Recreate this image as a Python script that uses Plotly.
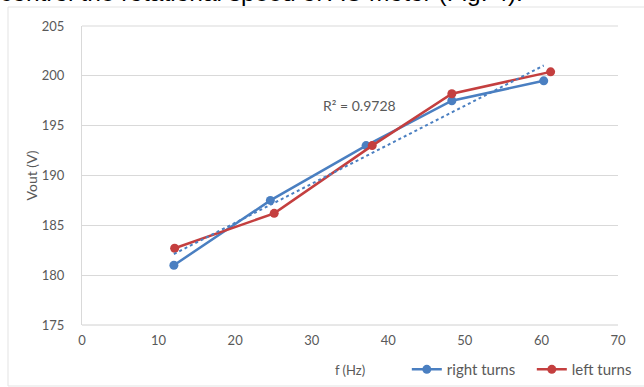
import numpy as np
import plotly.graph_objects as go

# data
f_right = [12, 24.6, 37.1, 48.3, 60.3]
v_right = [181.0, 187.5, 193.0, 197.5, 199.5]
f_left = [12.1, 25.1, 37.9, 48.3, 61.2]
v_left = [182.7, 186.2, 193.0, 198.2, 200.4]
r2_text = "R² = 0.9728"
x_ticks = [0, 10, 20, 30, 40, 50, 60, 70]
y_ticks = [175, 180, 185, 190, 195, 200, 205]

BLUE = "#4A7FC1"
RED = "#C43F3F"
GRAY = "#595959"
FONT = "Lato, Open Sans, sans-serif"

# linear trendline of right turns
coef = np.polyfit(f_right, v_right, 1)
tx = np.array([f_right[0], f_right[-1]])
ty = np.polyval(coef, tx)

fig = go.Figure()
fig.add_trace(go.Scatter(x=f_right, y=v_right, mode="lines+markers", name="right turns",
                         line=dict(color=BLUE, width=2.5), marker=dict(size=9, color=BLUE)))
fig.add_trace(go.Scatter(x=f_left, y=v_left, mode="lines+markers", name="left turns",
                         line=dict(color=RED, width=2.5), marker=dict(size=9, color=RED)))
fig.add_trace(go.Scatter(x=tx, y=ty, mode="lines", showlegend=False,
                         line=dict(color=BLUE, width=2, dash="dot")))

fig.update_layout(
    width=644, height=387,
    margin=dict(l=82, r=26, t=26, b=62, autoexpand=False),
    paper_bgcolor="white", plot_bgcolor="white",
    font=dict(family=FONT, size=13, color=GRAY),
    showlegend=True,
    legend=dict(orientation="h", x=0.606, y=-0.094, xanchor="left", yanchor="top",
                font=dict(size=15, color=GRAY), tracegroupgap=0,
                entrywidth=80, entrywidthmode="pixels",
                bgcolor="rgba(0,0,0,0)"),
    xaxis=dict(range=[0, 70], tickvals=x_ticks, showgrid=False, zeroline=False,
               showline=False, ticks="", tickfont=dict(size=13, color=GRAY),
               ticklabelstandoff=6, automargin=False,
               title=dict(text="f (Hz)", font=dict(size=13, color=GRAY), standoff=18)),
    yaxis=dict(range=[175, 205], tickvals=y_ticks, showgrid=True, gridcolor="#D9D9D9",
               gridwidth=1, zeroline=False, showline=True, linecolor="#D9D9D9", linewidth=1,
               ticks="", tickfont=dict(size=13, color=GRAY), ticklabelstandoff=14,
               automargin=False,
               title=dict(text="Vout (V)", font=dict(size=14, color=GRAY), standoff=0)),
    shapes=[
        dict(type="rect", xref="paper", yref="paper",
             x0=-74/536, x1=1.2, y0=-61/299, y1=1 + 19/299,
             line=dict(color="#E3E3E3", width=1), fillcolor="rgba(0,0,0,0)", layer="below"),
        dict(type="line", xref="paper", yref="paper", x0=0, x1=1, y0=0, y1=0,
             line=dict(color="#D0D0D0", width=1)),
        dict(type="line", xref="paper", yref="paper", x0=0, x1=1, y0=1, y1=1,
             line=dict(color="#D9D9D9", width=1)),
    ],
    annotations=[
        dict(text=r2_text, x=36.2, y=197.0, xref="x", yref="y", showarrow=False,
             font=dict(size=14, color=GRAY)),
        dict(text="control the rotational speed of AC motor (Fig. 4).", xref="paper", yref="paper",
             x=-84/536, y=1 + 18/299, xanchor="left", yanchor="bottom", showarrow=False,
             font=dict(family="Liberation Sans, Arial", size=24.5, color="black")),
    ],
)

fig.write_html("out.html")
